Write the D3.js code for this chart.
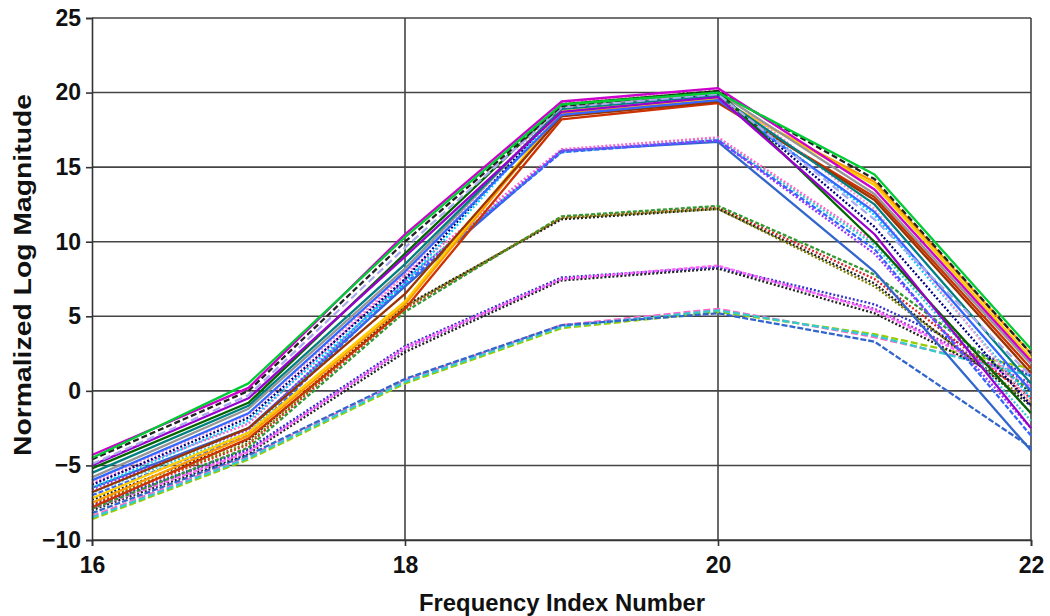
<!DOCTYPE html>
<html>
<head>
<meta charset="utf-8">
<script src="https://cdn.jsdelivr.net/npm/d3@7"></script>
<style>
  body{margin:0;background:#fff;}
  svg{display:block;font-family:"Liberation Sans",Arial,sans-serif;}
</style>
</head>
<body>
<svg id="chart" width="1050" height="616"></svg>
<script>
// x positions of each sample
const frequencyIndex=[16,17,18,19,20,21,22];
const xTicks=[16,18,20,22];
const yTicks=[-10,-5,0,5,10,15,20,25];

// series, one row per trace
const peak5=[
  [-8.6,-4.6,0.5,4.2,5.3,3.8,1.5],
  [-8.4,-4.4,0.7,4.4,5.5,3.6,1.2],
  [-8.5,-4.5,0.6,4.3,5.4,3.7,1.0],
  [-8.2,-4.3,0.8,4.4,5.2,3.3,-3.8]
];
const peak8=[
  [-7.8,-4.0,2.8,7.5,8.3,5.5,0.5],
  [-8.0,-4.2,2.6,7.4,8.2,5.2,0.0],
  [-7.7,-3.9,3.0,7.6,8.3,5.8,1.0],
  [-7.9,-4.1,2.9,7.5,8.4,5.4,0.3]
];
const peak12=[
  [-7.6,-3.6,5.5,11.6,12.3,7.5,-0.5],
  [-7.3,-3.3,5.7,11.5,12.2,7.2,-1.0],
  [-7.9,-3.8,5.3,11.7,12.4,7.8,0.0],
  [-7.5,-3.5,5.6,11.6,12.2,7.0,-0.8]
];
const peak17=[
  [-6.5,-2.5,7.0,16.1,16.7,8.0,-4.0],
  [-6.8,-2.8,7.5,16.0,16.9,9.8,-2.0],
  [-6.2,-2.2,7.8,16.2,17.0,10.0,-1.5],
  [-7.0,-3.0,7.2,16.0,16.8,9.5,-3.0],
  [-6.6,-2.6,7.4,16.1,16.8,9.2,-2.5]
];
const peak20=[
  [-7.8,-3.2,5.5,18.2,19.3,13.0,1.5],
  [-7.5,-3.0,5.8,18.6,19.5,14.0,2.5],
  [-7.2,-2.8,6.0,18.8,19.6,13.8,2.2],
  [-6.8,-2.5,6.5,18.4,19.4,12.8,1.2],
  [-6.5,-2.0,7.2,18.9,19.8,11.8,-0.5],
  [-6.3,-1.8,7.5,19.0,19.9,11.0,-1.0],
  [-6.1,-1.6,7.8,19.3,20.2,12.2,-0.8],
  [-6.0,-1.5,8.0,18.5,19.5,12.0,0.0],
  [-5.8,-1.2,8.2,19.0,20.0,13.2,1.8],
  [-5.5,-1.0,8.5,18.9,19.8,12.5,0.5],
  [-5.2,-0.8,9.2,19.2,20.1,10.0,-1.5],
  [-5.0,-0.5,9.0,18.7,19.7,10.5,-2.5],
  [-4.9,-0.3,9.6,19.0,19.9,11.5,1.0],
  [-4.6,0.0,10.0,19.1,20.1,14.2,2.5],
  [-4.3,0.2,10.5,19.4,20.3,13.5,2.0],
  [-4.5,0.5,10.3,19.2,20.0,14.5,2.8]
];

// stroke looks, cycled per group
const styles={
  peak5:[["#99cc00","7,3"],["#ff66cc","7,3"],["#33cccc","7,3"],["#3366cc","6,2"]],
  peak8:[["#9933cc","2,2"],["#222222","2,2"],["#3333cc","2,2"],["#ff66ff","4,2"]],
  peak12:[["#dd2222","2,2"],["#222222","2,2"],["#339933","4,2"],["#808000","2,2"]],
  peak17:[["#3366cc",null],["#33cccc","2,2"],["#ff66cc","2,2"],["#3366ff","5,2"],["#9933ff","2,2"]],
  peak20:[["#cc3300",null],["#ff9900",null],["#ffcc00",null],["#993300",null],["#00ccff","2,2"],
          ["#000080","2,2"],["#ff99cc","2,2"],["#3366ff",null],["#969696",null],["#008080",null],
          ["#006600",null],["#9900cc",null],["#aaaaee","8,4"],["#222222","6,3"],["#cc00cc",null],["#00cc33",null]]
};

const svg=d3.select("#chart");
const m={top:18,right:19,bottom:76,left:92};
const w=1050,h=616;

const x=d3.scaleLinear().domain([16,22]).range([m.left,w-m.right]);
const y=d3.scaleLinear().domain([-10,25]).range([h-m.bottom,m.top]);

// grid
svg.append("g").selectAll("line").data(yTicks).join("line")
  .attr("x1",m.left).attr("x2",w-m.right)
  .attr("y1",d=>y(d)).attr("y2",d=>y(d))
  .attr("stroke","#444").attr("stroke-width",1.6);
svg.append("g").selectAll("line").data(xTicks.slice(1)).join("line")
  .attr("x1",d=>x(d)).attr("x2",d=>x(d))
  .attr("y1",m.top).attr("y2",h-m.bottom)
  .attr("stroke","#444").attr("stroke-width",1.6);

const line=d3.line().x((d,i)=>x(frequencyIndex[i])).y(d=>y(d));

const groups=[["peak5",peak5],["peak8",peak8],["peak12",peak12],["peak17",peak17],["peak20",peak20]];
groups.forEach(([key,rows])=>{
  svg.append("g").selectAll("path").data(rows).join("path")
    .attr("d",line)
    .attr("fill","none")
    .attr("stroke",(d,i)=>styles[key][i][0])
    .attr("stroke-dasharray",(d,i)=>styles[key][i][1])
    .attr("stroke-width",2.3)
    .attr("stroke-linejoin","round");
});

// axes
const yAxis=svg.append("g")
  .attr("transform",`translate(${m.left},0)`)
  .call(d3.axisLeft(y).tickValues(yTicks).tickFormat(d3.format("d")).tickSize(6).tickPadding(5));
const xAxis=svg.append("g")
  .attr("transform",`translate(0,${h-m.bottom})`)
  .call(d3.axisBottom(x).tickValues(xTicks).tickFormat(d3.format("d")).tickSize(6).tickPadding(11));
[yAxis,xAxis].forEach(g=>{
  g.select(".domain").attr("stroke","#333").attr("stroke-width",1.6);
  g.selectAll(".tick line").attr("stroke","#333").attr("stroke-width",1.6);
  g.selectAll(".tick text").attr("font-size","23px").attr("font-weight","bold")
    .attr("fill","#111").attr("font-family","Liberation Sans, Arial, sans-serif");
});

svg.append("text")
  .attr("x",562).attr("y",611)
  .attr("text-anchor","middle")
  .attr("textLength",286).attr("lengthAdjust","spacingAndGlyphs")
  .attr("font-size","23px").attr("font-weight","bold").attr("fill","#111")
  .text("Frequency Index Number");

svg.append("text")
  .attr("transform",`translate(31,275) rotate(-90)`)
  .attr("text-anchor","middle")
  .attr("textLength",362).attr("lengthAdjust","spacingAndGlyphs")
  .attr("font-size","23px").attr("font-weight","bold").attr("fill","#111")
  .text("Normalized Log Magnitude");
</script>
</body>
</html>
